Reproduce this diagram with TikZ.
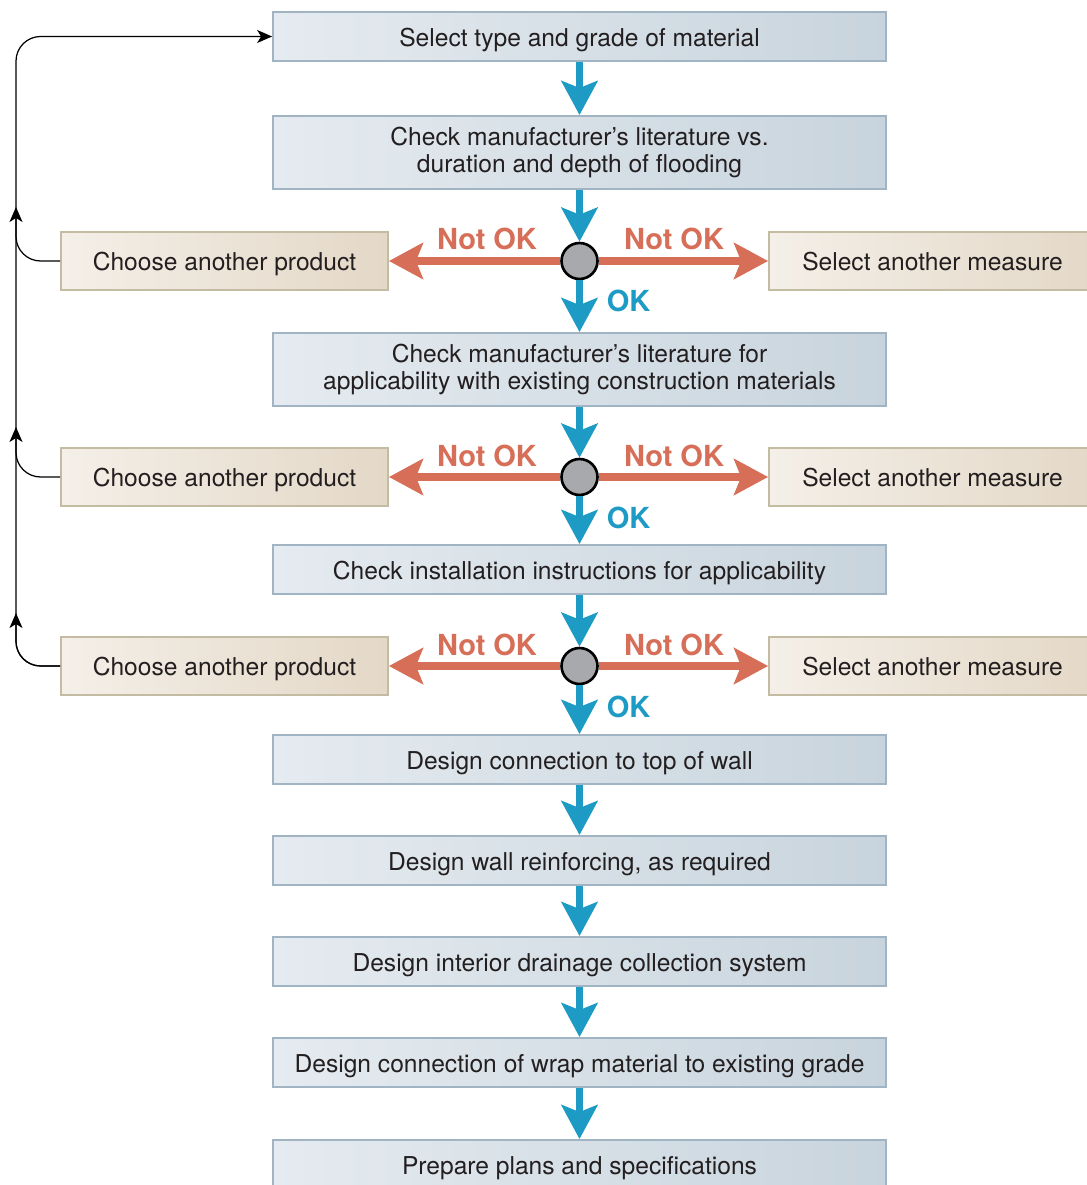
\documentclass[tikz,border=0pt]{standalone}
\usepackage{fontspec}
\setmainfont{TeX Gyre Heros}
\usetikzlibrary{arrows.meta}

\definecolor{schrift}{RGB}{35,31,32}
\definecolor{schrittlinks}{RGB}{229,235,240}
\definecolor{schrittrechts}{RGB}{200,212,221}
\definecolor{schrittrand}{RGB}{160,180,195}
\definecolor{ausweichlinks}{RGB}{244,239,232}
\definecolor{ausweichrechts}{RGB}{228,216,199}
\definecolor{ausweichrand}{RGB}{196,187,163}
\definecolor{okblau}{RGB}{30,155,196}
\definecolor{notokrot}{RGB}{214,110,88}
\definecolor{knotengrau}{RGB}{167,169,172}

\tikzset{
    schritt/.style={draw=schrittrand, line width=1.1pt, left color=schrittlinks, right color=schrittrechts,
        minimum width=12.26cm, inner sep=0pt, align=center, text=schrift,
        font=\fontsize{14}{15.5}\selectfont},
    einzeilig/.style={text height=12pt, text depth=0.7pt},
    ausweich/.style={schritt, einzeilig, draw=ausweichrand, left color=ausweichlinks, right color=ausweichrechts,
        minimum width=6.54cm, minimum height=1.16cm},
    entscheidung/.style={circle, draw=black, line width=1.5pt, fill=knotengrau, minimum size=0.72cm, inner sep=0pt},
    okpfeil/.style={draw=okblau, line width=4.5pt, -{Stealth[length=0.68cm, width=0.72cm, inset=0.14cm]}},
    notokpfeil/.style={okpfeil, draw=notokrot},
    beschriftung/.style={inner sep=0pt, font=\fontsize{16.5}{18}\selectfont\bfseries},
    rueckweg/.style={draw=black, line width=0.7pt, rounded corners=14pt, -{Stealth[length=0.3cm, width=0.26cm, inset=0.08cm]}}
}

\begin{document}
\begin{tikzpicture}[x=0.02cm, y=-0.02cm]
        \useasboundingbox (0,0) rectangle (1087,1185);
        \clip (0,0) rectangle (1087,1185);

        % Hauptschritte
        \node [schritt, einzeilig, minimum height=0.98cm] (select) at (579.5,36.5) {Select type and grade of material};
        \node [schritt, minimum height=1.46cm] (duration) at (579.5,152.5) {Check manufacturer’s literature vs.\\duration and depth of flooding};
        \node [schritt, minimum height=1.46cm] (applicability) at (579.5,369.5) {Check manufacturer’s literature for\\applicability with existing construction materials};
        \node [schritt, einzeilig, minimum height=0.98cm] (installation) at (579.5,569.5) {Check installation instructions for applicability};
        \node [schritt, einzeilig, minimum height=0.98cm] (topwall) at (579.5,759.5) {Design connection to top of wall};
        \node [schritt, einzeilig, minimum height=0.98cm] (reinforcing) at (579.5,860.5) {Design wall reinforcing, as required};
        \node [schritt, einzeilig, minimum height=0.98cm] (drainage) at (579.5,961.5) {Design interior drainage collection system};
        \node [schritt, einzeilig, minimum height=0.98cm] (wrap) at (579.5,1062.5) {Design connection of wrap material to existing grade};
        \node [schritt, einzeilig, minimum height=0.98cm] (plans) at (579.5,1164.5) {Prepare plans and specifications};

        % Pruefungen
        \foreach \nr/\ypos/\oben/\unten in {1/261/duration/applicability, 2/477/applicability/installation, 3/666/installation/topwall}
        {
            \node [entscheidung] (pruefung\nr) at (579.5,\ypos) {};
            \node [ausweich] (produkt\nr) at (224.5,\ypos) {Choose another product};
            \node [ausweich] (massnahme\nr) at (932.5,\ypos) {Select another measure};

            \draw [okpfeil] (\oben) -- (pruefung\nr);
            \draw [okpfeil] (pruefung\nr) -- (\unten);
            \draw [notokpfeil] (pruefung\nr) -- (produkt\nr);
            \draw [notokpfeil] (pruefung\nr) -- (massnahme\nr);

            \node [beschriftung, text=notokrot, anchor=base] (linksnotok\nr) at ([shift={(-92.5,-11)}]pruefung\nr.center) {Not OK};
            \node [beschriftung, text=notokrot, anchor=base] (rechtsnotok\nr) at ([shift={(94.5,-11)}]pruefung\nr.center) {Not OK};
            \node [beschriftung, text=okblau, anchor=base west] (ok\nr) at ([shift={(27,51)}]pruefung\nr.center) {OK};
        }

        % restliche Pfeile
        \foreach \oben/\unten in {select/duration, topwall/reinforcing, reinforcing/drainage, drainage/wrap, wrap/plans}
            \draw [okpfeil] (\oben) -- (\unten);

        % Rueckweg links
        \coordinate (rueckx) at (16,0);
        \coordinate (hoch1) at (16,207);
        \coordinate (hoch2) at (16,427);
        \coordinate (hoch3) at (16,613);
        \draw [rueckweg] (produkt3.west) -| (select.west -| rueckx) -- (select.west);
        \foreach \nr in {1,2,3}
            \draw [rueckweg] (produkt\nr.west) -| (hoch\nr);

\end{tikzpicture}
\end{document}
